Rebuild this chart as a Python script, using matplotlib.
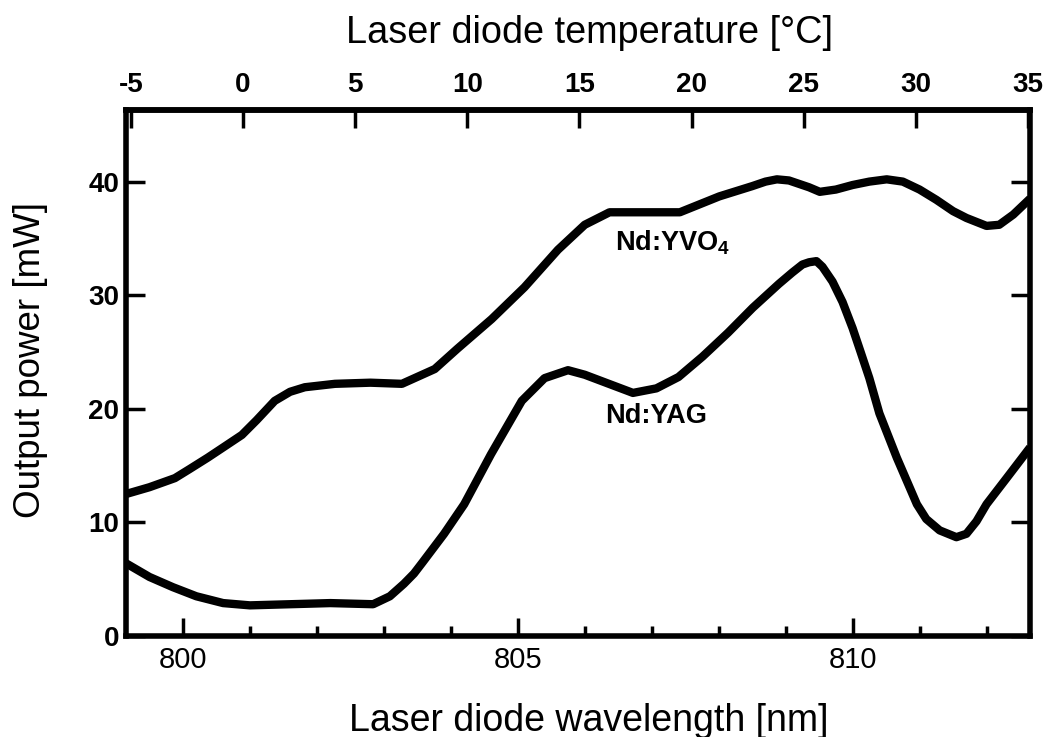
import matplotlib
matplotlib.use('Agg')
import matplotlib.pyplot as plt
from matplotlib.ticker import MultipleLocator, FixedLocator

plt.rcParams['font.family'] = ['Liberation Sans', 'DejaVu Sans']
plt.rcParams['axes.unicode_minus'] = False
plt.rcParams['mathtext.fontset'] = 'custom'
plt.rcParams['mathtext.rm'] = 'Liberation Sans:bold'
plt.rcParams['mathtext.it'] = 'Liberation Sans:bold'
plt.rcParams['mathtext.bf'] = 'Liberation Sans:bold'

# ---- data ----
wl_yvo4 = [799.15, 799.5, 799.88, 800.1, 800.37, 800.6, 800.88, 801.1, 801.37, 801.6,
           801.82, 802.27, 802.8, 803.27, 803.76, 804.1, 804.61, 805.1, 805.6, 806.0,
           806.37, 807.42, 808.01, 808.5, 808.7, 808.87, 809.05, 809.35, 809.51, 809.75,
           810.0, 810.25, 810.51, 810.75, 811.0, 811.25, 811.5, 811.7, 812.0, 812.19,
           812.4, 812.65]
p_yvo4 = [12.5, 13.1, 13.9, 14.7, 15.7, 16.6, 17.7, 19.0, 20.7, 21.5,
          21.9, 22.2, 22.3, 22.2, 23.5, 25.3, 27.9, 30.7, 34.0, 36.2,
          37.3, 37.3, 38.7, 39.6, 40.0, 40.2, 40.1, 39.5, 39.1, 39.3,
          39.7, 40.0, 40.2, 40.0, 39.3, 38.4, 37.4, 36.8, 36.1, 36.2,
          37.1, 38.5]

wl_yag = [799.15, 799.5, 799.85, 800.2, 800.6, 801.0, 801.6, 802.2, 802.84, 803.09,
          803.3, 803.45, 803.58, 803.9, 804.2, 804.6, 805.06, 805.4, 805.75, 806.0,
          806.27, 806.72, 807.07, 807.4, 807.76, 808.14, 808.51, 808.9, 809.1, 809.25,
          809.35, 809.46, 809.55, 809.7, 809.85, 810.0, 810.12, 810.25, 810.4, 810.66,
          810.96, 811.1, 811.3, 811.55, 811.7, 811.85, 812.0, 812.3, 812.65]
p_yag = [6.4, 5.2, 4.3, 3.5, 2.9, 2.7, 2.8, 2.9, 2.8, 3.5,
         4.6, 5.5, 6.5, 9.0, 11.6, 16.0, 20.7, 22.7, 23.4, 23.0,
         22.4, 21.4, 21.8, 22.8, 24.6, 26.7, 28.9, 31.0, 32.0, 32.7,
         32.9, 33.0, 32.5, 31.2, 29.4, 27.1, 25.0, 22.7, 19.6, 15.7,
         11.6, 10.3, 9.3, 8.7, 9.0, 10.1, 11.6, 13.9, 16.6]

series_labels = ['Nd:YVO$_4$', 'Nd:YAG']
label_pos = [(806.45, 34.6), (806.3, 19.4)]

wl_ticks = [800, 805, 810]
temp_ticks = [-5, 0, 5, 10, 15, 20, 25, 30, 35]
power_ticks = [0, 10, 20, 30, 40]

xlabel = 'Laser diode wavelength [nm]'
toplabel = 'Laser diode temperature [°C]'
ylabel = 'Output power [mW]'

# wavelength <-> temperature mapping of the two scales
WL0, SLOPE = 800.896, 2.985
def to_temp(w):
    return (w - WL0) * SLOPE
def to_wl(t):
    return t / SLOPE + WL0

fig = plt.figure(figsize=(10.45, 7.37), dpi=100)
ax = fig.add_axes([0.1206, 0.1370, 0.8651, 0.7137])

for wl, p in [(wl_yvo4, p_yvo4), (wl_yag, p_yag)]:
    ax.plot(wl, p, color='black', lw=6, solid_joinstyle='round', solid_capstyle='butt')

for lab, (x, y) in zip(series_labels, label_pos):
    ax.text(x, y, lab, fontsize=19.5, fontweight='bold', ha='left', va='center')

ax.set_xlim(799.15, 812.65)
ax.set_ylim(0, 46.3)

for s in ax.spines.values():
    s.set_linewidth(4)

ax.xaxis.set_major_locator(FixedLocator(wl_ticks))
ax.xaxis.set_minor_locator(MultipleLocator(1))
ax.yaxis.set_major_locator(FixedLocator(power_ticks))
ax.tick_params(axis='x', which='major', direction='in', length=13, width=2.5,
               labelsize=21, pad=7, top=False)
ax.tick_params(axis='x', which='minor', direction='in', length=7, width=2.5, top=False)
ax.tick_params(axis='y', which='major', direction='in', length=14, width=2.5,
               labelsize=20, pad=5, left=True, right=True)
for t in ax.get_yticklabels():
    t.set_fontweight('bold')

sec = ax.secondary_xaxis('top', functions=(to_temp, to_wl))
sec.xaxis.set_major_locator(FixedLocator(temp_ticks))
sec.xaxis.set_minor_locator(FixedLocator([]))
sec.tick_params(axis='x', which='major', direction='in', length=13, width=2.5,
                labelsize=20, pad=9)
sec.spines['top'].set_linewidth(4)
for t in sec.get_xticklabels():
    t.set_fontweight('bold')

fig.text(590 / 1045, 1 - 43 / 737, toplabel, fontsize=27.3, ha='center', va='baseline')
fig.text(589 / 1045, 6 / 737, xlabel, fontsize=27, ha='center', va='baseline')
fig.text(31 / 1045, 1 - 360 / 737, ylabel, fontsize=26.5, ha='center', va='center',
         rotation=90)

fig.savefig('out.png', dpi=100)
